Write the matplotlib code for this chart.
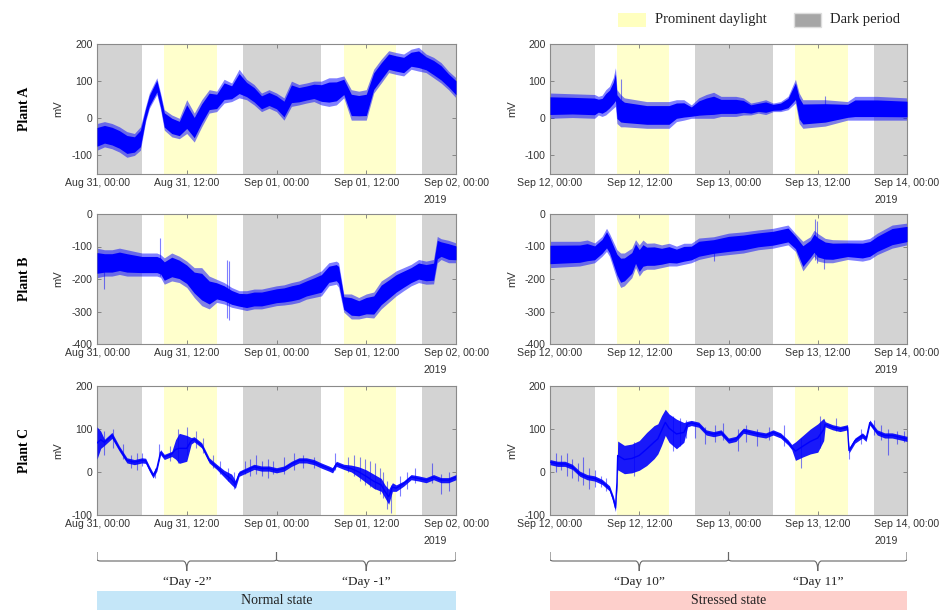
import numpy as np
import matplotlib
matplotlib.use('Agg')
import matplotlib.pyplot as plt
from matplotlib.path import Path
from matplotlib.patches import PathPatch, Rectangle

plt.rcParams['font.family'] = ['Liberation Sans', 'DejaVu Sans']
plt.rcParams['axes.unicode_minus'] = False

# ---- labels / periods ----
plants = ['Plant A', 'Plant B', 'Plant C']
ticks_hours = [0, 12, 24, 36, 48]
ticks_normal = ['Aug 31, 00:00', 'Aug 31, 12:00', 'Sep 01, 00:00', 'Sep 01, 12:00', 'Sep 02, 00:00']
ticks_stress = ['Sep 12, 00:00', 'Sep 12, 12:00', 'Sep 13, 00:00', 'Sep 13, 12:00', 'Sep 14, 00:00']
dark_periods = [(0, 6), (19.5, 30), (43.5, 48)]
day_periods = [(9, 16), (33, 40)]
days_normal = ['\u201cDay -2\u201d', '\u201cDay -1\u201d']
days_stress = ['\u201cDay 10\u201d', '\u201cDay 11\u201d']
ylims = [(-150, 200), (-400, 0), (-100, 200)]
yticks = [[-100, 0, 100, 200], [-400, -300, -200, -100, 0], [-100, 0, 100, 200]]

# ---- signal envelopes (hours, mV) ----
a_norm_t = [0, 1, 2, 3, 4, 5, 5.8, 6.5, 7, 8, 8.5, 9, 10, 11, 12, 13, 14, 15, 16, 17, 18, 19, 20, 21, 22,
            23, 24, 25, 26, 27, 28, 29, 30, 31, 32, 33, 34, 35, 36, 37, 38, 39, 40, 41, 42, 43, 44, 45,
            46, 47, 48]
a_norm_lo = [-86, -77, -82, -91, -105, -100, -86, -9, 27, 64, 23, -32, -50, -55, -41, -64, -23, 14, 18, 41,
             45, 55, 50, 36, 18, 27, 18, -5, 32, 36, 41, 45, 36, 32, 36, 55, -5, -5, -5, 68, 95, 123, 118,
             114, 132, 127, 123, 109, 95, 77, 55]
a_norm_hi = [-14, -9, -14, -23, -36, -41, -23, 32, 68, 109, 68, 23, 9, 0, 50, 14, 50, 77, 73, 105, 95, 132,
             105, 91, 68, 77, 68, 55, 100, 91, 95, 100, 100, 109, 109, 114, 77, 73, 77, 132, 159, 182, 177,
             173, 186, 191, 173, 164, 150, 127, 109]

a_str_t = [0, 3, 6, 6.5, 7, 7.5, 8, 8.5, 8.8, 9, 9.5, 10, 13, 16, 17, 18, 19, 20, 21, 22, 23, 25, 26, 27,
           28, 29, 30, 31, 32, 32.5, 33, 33.5, 34, 37, 40, 41, 44, 48]
a_str_lo = [0, 2, 0, 9, 5, 9, 18, 27, 32, -14, -23, -23, -27, -27, -9, -5, 0, 0, 0, 0, 5, 5, 9, 9,
            14, 10, 18, 18, 23, 32, 41, -14, -27, -21, -5, -5, -5, -5]
a_str_hi = [68, 66, 64, 59, 62, 77, 86, 109, 136, 77, 64, 55, 45, 45, 50, 50, 36, 55, 64, 70, 59, 59, 55, 41,
            45, 50, 41, 45, 59, 82, 105, 68, 50, 50, 45, 59, 59, 55]

b_norm_t = [0, 1, 2, 3, 4, 5, 6, 8, 8.5, 9, 10, 11, 12, 13, 14, 15, 16, 17, 18, 19, 20, 21, 22, 23, 24,
            25, 26, 27, 28, 29, 30, 31, 32, 32.3, 33, 34, 35, 36, 37, 38, 39, 40, 41, 42, 43, 44, 45,
            45.5, 46, 47, 48]
b_norm_lo = [-196, -191, -191, -186, -191, -191, -191, -191, -195, -216, -206, -211, -226, -257, -282, -292,
             -272, -277, -287, -292, -297, -292, -292, -287, -282, -280, -277, -272, -262, -257, -252, -221,
             -216, -225, -302, -323, -323, -318, -320, -292, -272, -252, -236, -221, -211, -216, -215, -150,
             -140, -150, -150]
b_norm_hi = [-105, -110, -110, -105, -110, -115, -120, -120, -125, -135, -120, -130, -145, -165, -165, -191,
             -201, -211, -226, -236, -236, -231, -231, -226, -221, -218, -211, -206, -196, -186, -175, -150,
             -145, -150, -246, -246, -257, -246, -240, -206, -191, -175, -165, -155, -140, -145, -140, -69,
             -76, -81, -89]

b_str_t = [0, 4, 5, 6, 7, 7.6, 8, 9, 9.5, 10, 11, 11.5, 12, 12.5, 13, 14, 15, 16, 17, 18, 19, 20, 22,
           24, 26, 28, 30, 32, 33, 34, 35, 35.5, 36, 37, 38, 40, 42, 43, 44, 46, 48]
b_str_lo = [-165, -160, -155, -150, -130, -115, -130, -201, -226, -221, -196, -165, -191, -175, -170, -170,
            -165, -160, -160, -155, -150, -140, -130, -125, -120, -110, -105, -95, -115, -175, -145, -130,
            -145, -150, -150, -140, -145, -140, -125, -105, -95]
b_str_hi = [-84, -84, -80, -89, -69, -44, -60, -110, -120, -120, -105, -79, -95, -80, -90, -89, -95, -90,
            -99, -90, -90, -74, -70, -59, -55, -49, -44, -34, -60, -84, -70, -50, -60, -75, -79, -80, -80,
            -75, -59, -34, -28]

c_norm_t = [0, 0.5, 1, 2, 3, 4, 5, 6, 6.5, 7, 7.5, 8, 8.5, 9, 10, 10.5, 11, 12, 12.6, 13, 14, 15, 16, 17,
            18, 18.5, 19, 20, 21, 22, 23, 24, 25, 26, 27, 28, 29, 30, 31, 31.5, 32, 33, 34, 35, 36, 37,
            38, 38.5, 39, 39.5, 40, 41, 42, 43, 44, 45, 46, 47, 48]
c_norm_lo = [30, 55, 62, 78, 48, 21, 17, 21, 20, 2, -14, 2, 40, 29, 36, 30, 20, 25, 65, 70, 56, 21, 6, -12,
             -30, -38, -10, -2, 6, 2, 2, -2, 2, 13, 21, 21, 17, 9, 2, -2, 13, 6, 0, -12, -25, -38, -45,
             -60, -75, -45, -45, -33, -18, -21, -25, -18, -25, -25, -18]
c_norm_hi = [105, 95, 76, 92, 60, 33, 29, 33, 32, 14, -2, 14, 52, 41, 48, 75, 90, 85, 80, 82, 68, 33, 18, 4,
             -5, -20, 2, 10, 18, 14, 14, 10, 14, 25, 33, 33, 29, 21, 14, 10, 25, 18, 16, 12, 5, -5, -15,
             -30, -40, -25, -30, -21, -6, -9, -13, -6, -13, -13, -6]
c_norm_spk_t = [1.0, 2.2, 3.5, 4.5, 5.3, 6.0, 7.7, 8.3, 9.7, 10.8, 12.0, 13.3, 14.2, 15.5, 16.5, 17.5, 18.3,
                19.8, 20.5, 21.3, 22.0, 22.8, 23.5, 25.0, 26.3, 27.5, 29.0, 31.8, 33.5, 34.3, 35.2, 35.8,
                36.5, 37.2, 37.8, 38.3, 38.8, 39.3, 40.5, 41.5, 42.5, 44.8, 46.0, 47.0]
c_norm_spk_lo = [40, 55, 30, 10, 5, 15, -15, 35, 25, 20, 40, 55, 45, 10, -5, -20, -40, -5, -10, -5, -10, -15,
                 -5, -5, 5, 10, 10, 5, 0, -10, -20, -30, -35, -40, -50, -60, -85, -95, -55, -40, -25, -25,
                 -50, -45]
c_norm_spk_hi = [95, 100, 65, 40, 45, 45, 10, 65, 60, 100, 105, 95, 80, 40, 25, 10, 0, 25, 30, 40, 25, 30,
                 25, 35, 45, 40, 35, 45, 35, 40, 35, 30, 25, 20, 10, 0, -20, -30, -10, 0, 10, 20, -5, 0]

c_str_t = [0, 1, 2, 3, 4, 5, 6, 7, 8, 8.5, 8.8, 9.0, 9.1, 10, 11, 12, 13, 14, 14.5, 15, 15.5, 16, 17, 18,
           18.5, 19, 20, 21, 22, 23, 24, 25, 26, 27, 28, 29, 30, 31, 32, 32.5, 33, 34, 35, 36, 36.8, 37,
           38, 39, 40, 40.2, 41, 42, 42.5, 43, 44, 45, 46, 47, 48]
c_str_lo = [17, 13, 13, 6, -10, -18, -21, -29, -44, -70, -92, -40, 5, -4, -2, 4, 15, 31, 42, 62, 85, 69, 54,
            69, 105, 108, 104, 86, 82, 86, 67, 71, 90, 86, 82, 79, 86, 79, 63, 52, 27, 35, 42, 46, 73, 105,
            98, 94, 98, 44, 67, 79, 71, 109, 86, 79, 79, 75, 71]
c_str_hi = [29, 25, 25, 18, 2, -6, -9, -17, -32, -55, -75, -10, 72, 62, 65, 73, 92, 108, 112, 131, 146, 135,
            123, 115, 118, 120, 116, 98, 94, 98, 79, 83, 102, 98, 94, 91, 98, 91, 75, 64, 70, 85, 100, 112,
            125, 117, 110, 106, 110, 56, 79, 91, 83, 121, 98, 91, 91, 87, 83]
c_str_spk_t = [0.8, 1.5, 2.3, 3.0, 3.8, 4.5, 5.3, 6.0, 6.8, 7.5, 11.3, 16.5, 17.5, 18.3, 19.5, 20.8, 22.2,
               23.3, 25.3, 26.4, 27.8, 29.5, 31.5, 33.7, 36.3, 38.5, 40.2, 41.8, 43.6, 44.5, 45.5, 46.6,
               47.6]
c_str_spk_lo = [0, 5, -10, -15, -20, -30, -40, -35, -35, -45, -10, 50, 60, 80, 80, 65, 70, 75, 50, 70, 60,
                75, 60, 10, 55, 95, 30, 65, 85, 75, 40, 65, 70]
c_str_spk_hi = [45, 40, 45, 30, 20, 35, 10, 5, -10, -15, 70, 130, 125, 120, 115, 105, 110, 115, 100, 110,
                100, 105, 110, 80, 130, 125, 60, 100, 120, 110, 100, 95, 95]

b_norm_spk_t = [17.4, 17.7, 8.4, 1.0]
b_norm_spk_lo = [-320, -325, -190, -231]
b_norm_spk_hi = [-140, -145, -74, -150]
b_str_spk_t = [35.6, 35.9, 22.0, 36.9]
b_str_spk_lo = [-140, -150, -145, -170]
b_str_spk_hi = [-16, -20, -95, -90]
a_str_spk_t = [9.6, 37.0]
a_str_spk_lo = [20, 10]
a_str_spk_hi = [106, 60]

panels = [
    [(a_norm_t, a_norm_lo, a_norm_hi, None), (a_str_t, a_str_lo, a_str_hi, (a_str_spk_t, a_str_spk_lo, a_str_spk_hi))],
    [(b_norm_t, b_norm_lo, b_norm_hi, (b_norm_spk_t, b_norm_spk_lo, b_norm_spk_hi)),
     (b_str_t, b_str_lo, b_str_hi, (b_str_spk_t, b_str_spk_lo, b_str_spk_hi))],
    [(c_norm_t, c_norm_lo, c_norm_hi, (c_norm_spk_t, c_norm_spk_lo, c_norm_spk_hi)),
     (c_str_t, c_str_lo, c_str_hi, (c_str_spk_t, c_str_spk_lo, c_str_spk_hi))],
]

W, H = 946, 610
fig = plt.figure(figsize=(W / 100, H / 100), dpi=100)

col_x = [(97, 456), (550, 907)]
row_y = [(44, 174), (214, 344), (386, 515)]
BLUE = '#0000ff'
GRAY = '#d3d3d3'
YEL = '#ffffcc'
TXT = '#333333'
SERIF = ['Liberation Serif', 'DejaVu Serif']


def px_axes(x0, x1, y0, y1):
    return fig.add_axes([x0 / W, 1 - y1 / H, (x1 - x0) / W, (y1 - y0) / H])


for r in range(3):
    for c in range(2):
        x0, x1 = col_x[c]
        y0, y1 = row_y[r]
        ax = px_axes(x0, x1, y0, y1)
        for a, b in dark_periods:
            ax.axvspan(a, b, color=GRAY, lw=0, zorder=0)
        for a, b in day_periods:
            ax.axvspan(a, b, color=YEL, lw=0, zorder=0)
        t, lo, hi, spk = panels[r][c]
        t = np.array(t, float)
        lo = np.array(lo, float)
        hi = np.array(hi, float)
        w = hi - lo
        if r < 2:
            ax.fill_between(t, lo, hi, color=BLUE, alpha=0.5, lw=0, zorder=2)
            ax.fill_between(t, lo + 0.15 * w, hi - 0.15 * w, color=BLUE, lw=0, zorder=3)
        else:
            ax.fill_between(t, lo, hi, color=BLUE, alpha=0.9, lw=0, zorder=3)
            ax.plot(t, (lo + hi) / 2, color=BLUE, lw=1.0, zorder=3)
        if spk is not None:
            ax.vlines(spk[0], spk[1], spk[2], color=BLUE, lw=0.8, alpha=0.5, zorder=2)
        ax.set_xlim(0, 48)
        ax.set_ylim(*ylims[r])
        ax.set_yticks(yticks[r])
        ax.set_xticks(ticks_hours)
        ax.set_xticklabels(ticks_normal if c == 0 else ticks_stress)
        ax.tick_params(direction='in', length=3, width=0.6, top=True, right=True,
                       labelsize=7.6, colors='#777777', labelcolor=TXT, pad=3)
        for s in ax.spines.values():
            s.set_color('#8a8a8a')
            s.set_linewidth(0.8)
        ax.set_ylabel('mV', fontsize=8, color=TXT)
        ax.yaxis.set_label_coords(-0.093, 0.5)
        ax.annotate('2019', xy=(1, 0), xycoords='axes fraction', xytext=(-9, -26),
                    textcoords='offset pixels', ha='right', va='center', fontsize=7.6, color=TXT)
    fig.text(25 / W, 1 - (row_y[r][0] + row_y[r][1]) / 2 / H, plants[r], rotation=90,
             ha='center', va='center', fontsize=10, fontweight='bold', family=SERIF)


def brace(ax, xa, xb, y_top, y_line, y_tip, rr=0.5):
    xm = (xa + xb) / 2
    verts = [(xa, y_top), (xa, y_line - 1.5), (xa, y_line), (xa + rr, y_line),
             (xm - rr, y_line), (xm, y_line), (xm, y_tip),
             (xm, y_line), (xm + rr, y_line),
             (xb - rr, y_line), (xb, y_line), (xb, y_line - 1.5), (xb, y_top)]
    codes = [Path.MOVETO, Path.LINETO, Path.CURVE3, Path.CURVE3,
             Path.LINETO, Path.CURVE3, Path.CURVE3,
             Path.CURVE3, Path.CURVE3,
             Path.LINETO, Path.CURVE3, Path.CURVE3, Path.LINETO]
    ax.add_patch(PathPatch(Path(verts, codes), fill=False, ec='#666666', lw=0.8))


states = ['Normal state', 'Stressed state']
state_colors = ['#c4e6f8', '#fdcfcb']
day_labels = [days_normal, days_stress]
for c in range(2):
    x0, x1 = col_x[c]
    bx = px_axes(x0, x1, 545, 610)
    bx.set_xlim(0, 48)
    bx.set_ylim(610, 545)
    bx.axis('off')
    for k in range(2):
        brace(bx, 24 * k, 24 * (k + 1), 552, 561, 571)
        bx.text(24 * k + 12, 582, day_labels[c][k], ha='center', va='center', fontsize=9.5,
                family=SERIF, color='#222222')
    bx.add_patch(Rectangle((0, 591), 48, 20, color=state_colors[c], lw=0, clip_on=False))
    bx.text(24, 601, states[c], ha='center', va='center', fontsize=10, family=SERIF, color='#222222')

# legend
lx = fig.add_axes([0, 0, 1, 1], facecolor='none')
lx.set_xlim(0, W)
lx.set_ylim(H, 0)
lx.axis('off')
lx.add_patch(Rectangle((618, 13), 28, 14, color='#ffffbf', lw=0))
lx.text(655, 20, 'Prominent daylight', va='center', fontsize=10.5, family=SERIF, color='#222222')
lx.add_patch(Rectangle((794, 13), 27, 14, fc='#a6a6a6', ec='#dddddd', lw=1))
lx.text(830, 20, 'Dark period', va='center', fontsize=10.5, family=SERIF, color='#222222')

fig.savefig('out.png', dpi=100)
